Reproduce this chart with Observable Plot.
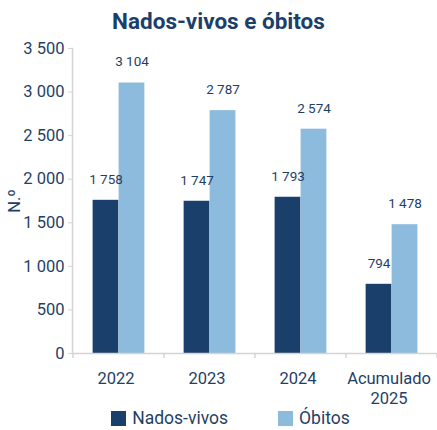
<!DOCTYPE html>
<html><head><meta charset="utf-8">
<script src="https://cdn.jsdelivr.net/npm/d3@7"></script>
<script src="https://cdn.jsdelivr.net/npm/@observablehq/plot@0.6"></script>
<style>
html,body{margin:0;padding:0;background:#fff;}
body{width:437px;height:430px;overflow:hidden;font-family:Roboto,sans-serif;color:#1f3f66;}
#title{height:40px;line-height:42px;text-align:center;font-size:22.5px;font-weight:700;color:#1b3f6b;}
#chart svg{display:block;}
#legend{display:flex;justify-content:center;align-items:center;height:21px;line-height:21px;padding-top:4px;padding-left:24px;font-size:17.5px;color:#1f3f66;}
.item{display:flex;align-items:center;}
.sw{width:15px;height:15px;margin-right:6px;}
</style></head><body>
<div id="title">Nados-vivos e óbitos</div>
<div id="chart"></div>
<div id="legend"></div>
<script>
const categories = ["2022", "2023", "2024", "Acumulado\n2025"];
const series = ["Nados-vivos", "Óbitos"];
const nadosVivos = [1758, 1747, 1793, 794];
const obitos = [3104, 2787, 2574, 1478];
const yTicks = [0, 500, 1000, 1500, 2000, 2500, 3000, 3500];

const colors = ["#1a3f6b", "#8cbbdd"];
const textColor = "#1f3f66";
const gridColor = "#d4d4d4";

const W = 437, H = 364;
const mL = 72, mR = 0, mT = 8, mB = 51;
const step = (W - mL - mR) / categories.length;
const barW = 26;

const fmt = v => d3.format(",")(v).replace(/,/g, " ");

const dataA = categories.map((c, i) => ({cat: c, serie: series[0], value: nadosVivos[i]}));
const dataB = categories.map((c, i) => ({cat: c, serie: series[1], value: obitos[i]}));

const chart = Plot.plot({
  width: W, height: H,
  marginLeft: mL, marginRight: mR, marginTop: mT, marginBottom: mB,
  style: {fontFamily: "Roboto, sans-serif", color: textColor, background: "white", overflow: "visible"},
  x: {domain: categories, padding: 0},
  y: {domain: [0, 3500]},
  marks: [
    Plot.frame({anchor: "left", stroke: gridColor, strokeWidth: 1.5}),
    Plot.axisY({ticks: yTicks, tickFormat: fmt, tickSize: 4, tickPadding: 4, stroke: gridColor,
      fill: textColor, fontSize: 16.5, label: "N.º", labelAnchor: "center", labelArrow: "none", labelOffset: 64}),
    Plot.axisX({tickSize: 0, tickPadding: 17, fontSize: 16.5, fill: textColor, label: null, lineHeight: 1.18, dx: -3}),
    Plot.barY(dataA, {x: "cat", y: "value", fill: colors[0], insetLeft: step / 2 - barW, insetRight: step / 2}),
    Plot.barY(dataB, {x: "cat", y: "value", fill: colors[1], insetLeft: step / 2, insetRight: step / 2 - barW}),
    Plot.text(dataA, {x: "cat", y: "value", text: d => fmt(d.value), dx: -barW / 2, dy: -21, fontSize: 13.5, fill: textColor}),
    Plot.text(dataB, {x: "cat", y: "value", text: d => fmt(d.value), dx: barW / 2, dy: -21, fontSize: 13.5, fill: textColor}),
    Plot.frame({anchor: "bottom", stroke: gridColor, strokeWidth: 1.5})
  ]
});

// category separator ticks at band boundaries, from the x scale
const xs = chart.scale("x");
const ys = chart.scale("y");
const y0 = ys.apply(0);
const svg = d3.select(chart);
const bounds = categories.map(c => xs.apply(c)).concat([xs.apply(categories[categories.length - 1]) + xs.step]);
svg.append("g").selectAll("line").data(bounds).join("line")
  .attr("x1", d => d).attr("x2", d => d)
  .attr("y1", y0).attr("y2", y0 + 5)
  .attr("stroke", gridColor).attr("stroke-width", 1.5);

document.getElementById("chart").appendChild(chart);

const legend = document.getElementById("legend");
series.forEach((s, i) => {
  const it = document.createElement("div");
  it.className = "item";
  it.style.marginRight = i === 0 ? "50px" : "0";
  it.innerHTML = `<span class="sw" style="background:${colors[i]}"></span><span>${s}</span>`;
  legend.appendChild(it);
});
</script>
</body></html>
